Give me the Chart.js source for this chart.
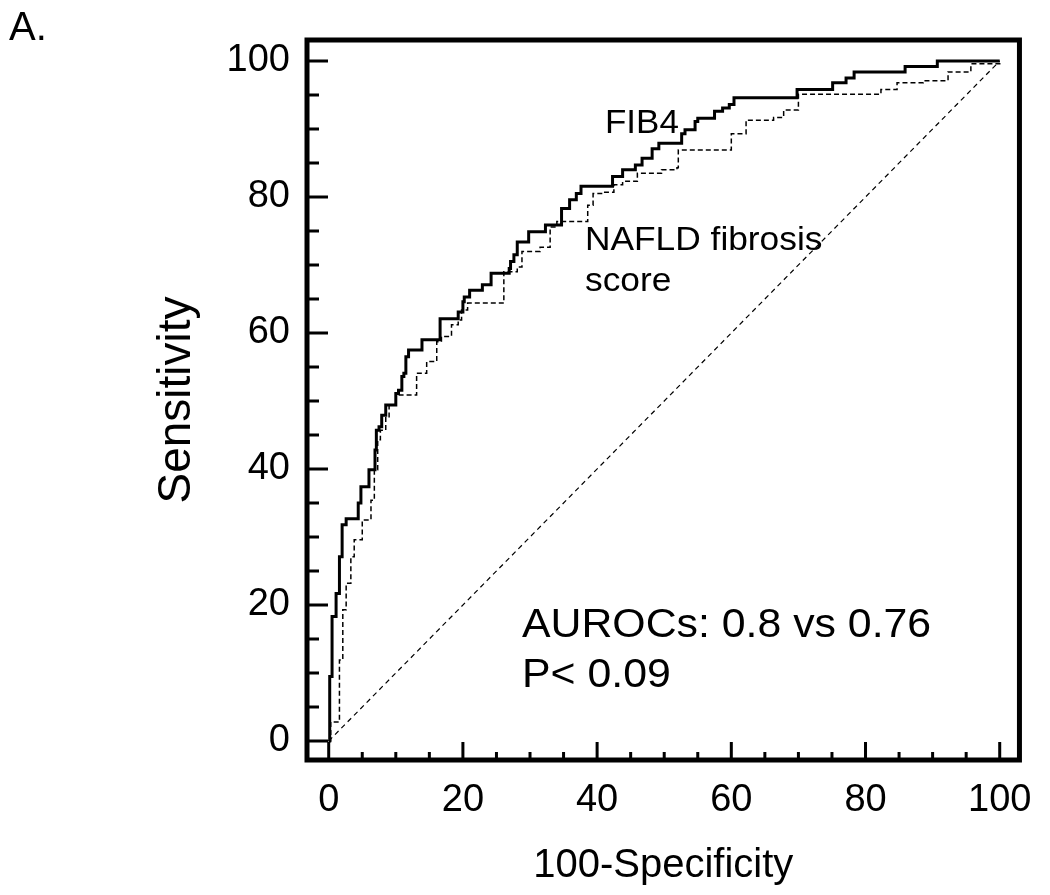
<!DOCTYPE html>
<html>
<head>
<meta charset="utf-8">
<script src="https://cdn.jsdelivr.net/npm/chart.js@4.4.1/dist/chart.umd.min.js"></script>
<style>
  body { margin: 0; background: #fff; }
  #wrap { width: 1050px; height: 895px; }
</style>
</head>
<body>
<div id="wrap"><canvas id="roc" width="1050" height="895"></canvas></div>
<script>
// FIB4 ROC curve (100-specificity, sensitivity), step corners
const fib4X = [0, 0.15, 0.5, 1.1, 1.6, 2.0, 2.6, 4.4, 4.8, 6.0, 6.9, 7.1, 7.5, 7.9, 8.5, 10.0, 10.4, 10.9, 11.2, 11.5, 11.9, 13.9, 16.6, 19.3, 20.0, 20.2, 21.0, 22.9, 24.2, 26.9, 27.1, 27.6, 28.1, 29.8, 32.3, 34.7, 35.9, 36.9, 37.6, 42.3, 43.8, 45.7, 46.7, 48.2, 49.2, 52.6, 53.1, 54.6, 55.0, 57.5, 58.7, 59.7, 60.4, 69.8, 75.1, 77.1, 78.3, 85.9, 90.7, 100];
const fib4Y = [0, 9.5, 18.3, 21.7, 27.1, 31.8, 32.7, 35.0, 37.4, 39.9, 42.8, 45.7, 46.2, 47.9, 49.4, 51.1, 51.6, 53.6, 54.1, 56.5, 57.5, 59.0, 62.1, 63.1, 64.6, 65.3, 66.3, 67.1, 68.8, 69.5, 70.5, 71.5, 73.4, 74.9, 75.9, 78.3, 79.6, 80.5, 81.6, 83.0, 84.0, 84.7, 85.7, 87.1, 87.9, 89.3, 89.9, 91.1, 91.6, 92.6, 93.1, 93.6, 94.6, 95.8, 96.8, 97.5, 98.4, 99.2, 100, 100];

// NAFLD fibrosis score ROC curve
const naflX = [0, 0.3, 1.6, 2.1, 2.6, 3.3, 3.8, 5.0, 6.3, 6.8, 7.3, 7.7, 8.5, 9.0, 10.0, 13.1, 14.6, 16.1, 16.8, 18.3, 19.3, 19.8, 20.7, 26.1, 28.1, 28.8, 31.5, 33.0, 34.0, 38.6, 39.4, 40.8, 42.5, 43.8, 46.0, 49.6, 51.9, 52.1, 60.0, 62.2, 66.3, 67.8, 70.0, 82.3, 84.7, 88.6, 92.3, 95.7, 100];
const naflY = [0, 2.8, 11.9, 19.3, 23.2, 27.1, 29.6, 32.5, 35.4, 39.9, 44.3, 45.7, 47.7, 49.4, 50.9, 54.1, 55.8, 58.7, 59.5, 61.2, 61.9, 63.4, 64.4, 69.0, 69.7, 72.0, 72.6, 75.6, 76.4, 78.8, 80.5, 80.7, 81.8, 82.3, 83.5, 84.0, 84.3, 86.9, 89.3, 91.3, 91.7, 92.8, 95.1, 95.8, 96.8, 97.1, 98.4, 99.6, 100];

// reference (chance) line
const diagX = [0, 100];
const diagY = [0, 100];

const tickValues = [0, 20, 40, 60, 80, 100];
const minorTickValues = [5, 10, 15, 25, 30, 35, 45, 50, 55, 65, 70, 75, 85, 90, 95];

const FONT = "'Liberation Sans', Arial, sans-serif";

function toPoints(xs, ys) {
  return xs.map((x, i) => ({ x: x, y: ys[i] }));
}

// text in the reference is a little wider than Arial, so stretch it sideways
function wideText(ctx, text, x, y, size, stretch) {
  ctx.save();
  ctx.font = size + "px " + FONT;
  ctx.translate(x, y);
  ctx.scale(stretch, 1);
  ctx.fillText(text, 0, 0);
  ctx.restore();
}

// frame, inward tick marks and the text notes
const framePlugin = {
  id: "frame",
  afterDatasetsDraw(chart) {
    const { ctx, chartArea: a, scales } = chart;
    const sx = scales.x;
    const sy = scales.y;
    ctx.save();
    ctx.strokeStyle = "#000";
    ctx.lineCap = "butt";
    ctx.lineWidth = 3;
    ctx.beginPath();
    tickValues.forEach((v) => {
      const py = sy.getPixelForValue(v);
      ctx.moveTo(a.left, py);
      ctx.lineTo(a.left + 21, py);
      const px = sx.getPixelForValue(v);
      ctx.moveTo(px, a.bottom);
      ctx.lineTo(px, a.bottom - 18);
    });
    minorTickValues.forEach((v) => {
      const py = sy.getPixelForValue(v);
      ctx.moveTo(a.left, py);
      ctx.lineTo(a.left + 12, py);
      const px = sx.getPixelForValue(v);
      ctx.moveTo(px, a.bottom);
      ctx.lineTo(px, a.bottom - 8);
    });
    ctx.stroke();

    ctx.lineWidth = 5;
    ctx.strokeRect(a.left, a.top, a.right - a.left, a.bottom - a.top);

    ctx.fillStyle = "#000";
    ctx.textBaseline = "alphabetic";
    ctx.textAlign = "left";
    wideText(ctx, "FIB4", 605, 133, 33, 1.06);
    wideText(ctx, "NAFLD fibrosis", 585, 250, 33, 1.07);
    wideText(ctx, "score", 585, 291, 33, 1.07);
    wideText(ctx, "AUROCs: 0.8 vs 0.76", 522, 637, 40, 1.07);
    wideText(ctx, "P< 0.09", 522, 687, 40, 1.07);
    wideText(ctx, "A.", 9, 40, 40, 1.0);
    ctx.restore();
  },
};

new Chart(document.getElementById("roc"), {
  type: "line",
  data: {
    datasets: [
      {
        label: "FIB4",
        data: toPoints(fib4X, fib4Y),
        borderColor: "#000",
        borderWidth: 3,
        stepped: "before",
        pointRadius: 0,
        fill: false,
      },
      {
        label: "NAFLD fibrosis score",
        data: toPoints(naflX, naflY),
        borderColor: "#000",
        borderWidth: 1.5,
        borderDash: [5, 3],
        stepped: "before",
        pointRadius: 0,
        fill: false,
      },
      {
        label: "Reference",
        data: toPoints(diagX, diagY),
        borderColor: "#000",
        borderWidth: 1.2,
        borderDash: [5, 4],
        pointRadius: 0,
        fill: false,
      },
    ],
  },
  options: {
    responsive: false,
    animation: false,
    layout: { padding: { left: 150, right: 21, top: 40, bottom: 0 } },
    plugins: {
      legend: { display: false },
      tooltip: { enabled: false },
    },
    scales: {
      x: {
        type: "linear",
        min: -3.235,
        max: 102.94,
        grid: { display: false, drawTicks: false },
        border: { display: false },
        afterBuildTicks: (s) => {
          s.ticks = tickValues.map((v) => ({ value: v }));
        },
        afterFit: (s) => {
          s.height = 135;
        },
        ticks: {
          padding: 18,
          maxRotation: 0,
          color: "#000",
          font: { family: FONT, size: 38 },
        },
        title: {
          display: true,
          text: "100-Specificity",
          color: "#000",
          padding: { top: 0, bottom: 5 },
          font: { family: FONT, size: 40 },
        },
      },
      y: {
        type: "linear",
        min: -2.794,
        max: 103.09,
        grid: { display: false, drawTicks: false },
        border: { display: false },
        afterBuildTicks: (s) => {
          s.ticks = tickValues.map((v) => ({ value: v }));
        },
        afterFit: (s) => {
          s.width = 157;
        },
        ticks: {
          padding: 17,
          color: "#000",
          font: { family: FONT, size: 38 },
        },
        title: {
          display: true,
          text: "Sensitivity",
          color: "#000",
          padding: { top: 0, bottom: 0 },
          font: { family: FONT, size: 46 },
        },
      },
    },
  },
  plugins: [framePlugin],
});
</script>
</body>
</html>
